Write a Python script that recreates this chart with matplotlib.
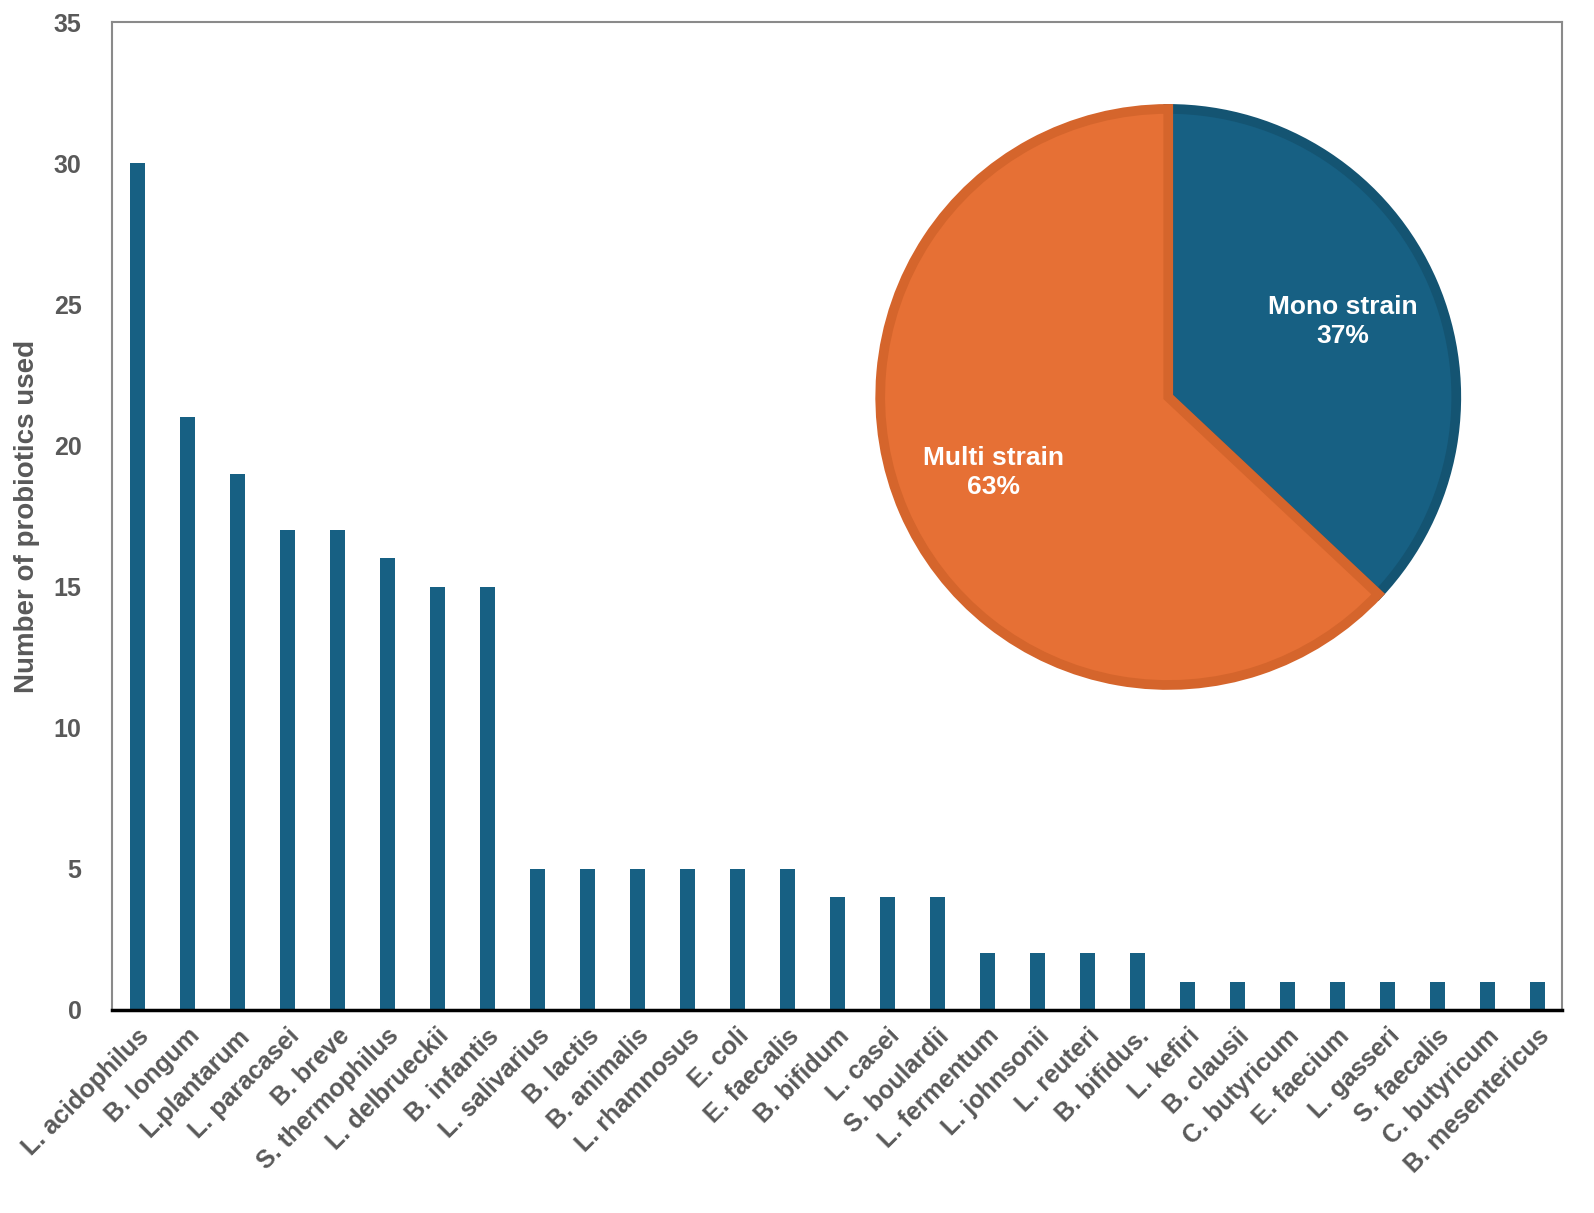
import numpy as np
import matplotlib
matplotlib.use("Agg")
import matplotlib.pyplot as plt

plt.rcParams['font.family'] = ['Liberation Sans', 'DejaVu Sans']

# bar data: probiotic species and number of times used
species = ["L. acidophilus", "B. longum", "L.plantarum", "L. paracasei", "B. breve",
           "S. thermophilus", "L. delbrueckii", "B. infantis", "L. salivarius", "B. lactis",
           "B. animalis", "L. rhamnosus", "E. coli", "E. faecalis", "B. bifidum",
           "L. casei", "S. boulardii", "L. fermentum", "L. johnsonii", "L. reuteri",
           "B. bifidus.", "L. kefiri", "B. clausii", "C. butyricum", "E. faecium",
           "L. gasseri", "S. faecalis", "C. butyricum", "B. mesentericus"]
counts = [30, 21, 19, 17, 17, 16, 15, 15, 5, 5, 5, 5, 5, 5, 4, 4, 4,
          2, 2, 2, 2, 1, 1, 1, 1, 1, 1, 1, 1]

# pie data: strain type share
strain_labels = ["Mono strain", "Multi strain"]
strain_share = [37, 63]

blue = "#176083"
gray_txt = "#595959"

fig = plt.figure(figsize=(15.94, 12.13), dpi=100)
ax = fig.add_axes([0.0703, 0.1674, 0.9097, 0.8144])

x = np.arange(len(species))
ax.bar(x, counts, width=0.3, color=blue, zorder=2)
ax.set_xlim(-0.5, len(species) - 0.5)
ax.set_ylim(0, 35)
ax.set_yticks(range(0, 36, 5))
ax.set_xticks(x)
ax.set_xticklabels(species, rotation=45, ha="right", rotation_mode="anchor",
                   fontsize=18, fontweight="bold", color=gray_txt)
for lab in ax.get_yticklabels():
    lab.set_fontsize(18)
    lab.set_fontweight("bold")
    lab.set_color(gray_txt)
ax.tick_params(axis="both", length=0)
ax.tick_params(axis="y", pad=22)
ax.tick_params(axis="x", pad=10)
ax.set_ylabel("Number of probiotics used", fontsize=20, fontweight="bold",
              color=gray_txt, labelpad=10)

for s in ["left", "top", "right"]:
    ax.spines[s].set_color("#8a8a8a")
    ax.spines[s].set_linewidth(1.5)
ax.spines["bottom"].set_color("black")
ax.spines["bottom"].set_linewidth(2.5)

# inset pie
pax = fig.add_axes([0.5522, 0.4353, 0.3614, 0.4749])
wedges, texts, autotexts = pax.pie(
    strain_share, colors=[blue, "#E67035"], startangle=90, counterclock=False,
    pctdistance=0.66, autopct=lambda p: "",
    wedgeprops=dict(linewidth=7, antialiased=True))
wedges[0].set_edgecolor("#145472")
wedges[1].set_edgecolor("#D5652C")
for w in wedges:
    w.set_clip_on(False)
for t, name, share in zip(autotexts, strain_labels, strain_share):
    t.set_text(f"{name}\n{share}%")
    t.set_color("white")
    t.set_fontsize(19)
    t.set_fontweight("bold")
    t.set_linespacing(1.3)
pax.set_xlim(-1, 1)
pax.set_ylim(-1, 1)
pax.set_aspect("equal")

fig.savefig("out.png", dpi=100)
